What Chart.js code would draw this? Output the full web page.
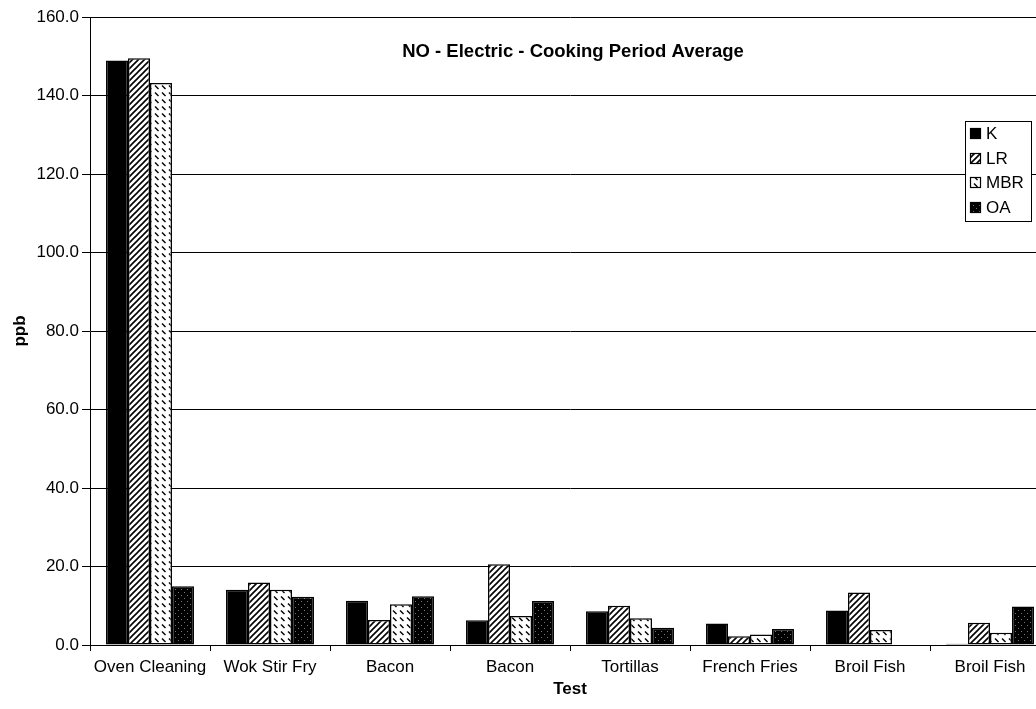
<!DOCTYPE html>
<html>
<head>
<meta charset="utf-8">
<script src="https://cdn.jsdelivr.net/npm/chart.js@4/dist/chart.umd.min.js"></script>
<style>
html,body{margin:0;padding:0;background:#fff;overflow:hidden;}
#wrap{width:1060px;height:709px;}
</style>
</head>
<body>
<div id="wrap"><canvas id="c" width="1060" height="709"></canvas></div>
<script>
const categories = ["Oven Cleaning","Wok Stir Fry","Bacon","Bacon","Tortillas","French Fries","Broil Fish","Broil Fish"];
const seriesNames = ["K","LR","MBR","OA"];
const valuesK   = [148.9, 14.1, 11.3, 6.3, 8.6, 5.5, 8.8, 0.3];
const valuesLR  = [149.5, 15.9, 6.4, 20.6, 10.0, 2.2, 13.4, 5.7];
const valuesMBR = [143.2, 14.1, 10.4, 7.4, 6.8, 2.7, 3.8, 3.1];
const valuesOA  = [15.0, 12.3, 12.4, 11.2, 4.4, 4.1, 0, 9.8];
const yTicks = [0,20,40,60,80,100,120,140,160];
const chartTitle = "NO - Electric - Cooking Period Average";

const FONT = "'Liberation Sans', Arial, sans-serif";

function makePattern(kind){
  const t = document.createElement('canvas');
  const s = kind==='MBR' ? 7 : 6;
  t.width = s; t.height = s;
  const g = t.getContext('2d');
  if(kind==='K'){
    g.fillStyle='#000'; g.fillRect(0,0,s,s);
  } else if(kind==='LR'){
    g.fillStyle='#fff'; g.fillRect(0,0,s,s);
    g.strokeStyle='#000'; g.lineWidth=1.6;
    g.beginPath();
    g.moveTo(-1,s+1); g.lineTo(s+1,-1);
    g.moveTo(-1,1); g.lineTo(1,-1);
    g.moveTo(s-1,s+1); g.lineTo(s+1,s-1);
    g.stroke();
  } else if(kind==='MBR'){
    g.fillStyle='#fff'; g.fillRect(0,0,s,s);
    g.strokeStyle='#000'; g.lineWidth=1.4;
    g.beginPath();
    g.moveTo(1,1.5); g.lineTo(4.5,5);
    g.stroke();
  } else {
    g.fillStyle='#000'; g.fillRect(0,0,s,s);
    g.fillStyle='#777';
    g.fillRect(1,1,1,1); g.fillRect(4,4,1,1);
  }
  return t;
}
const ctx0 = document.getElementById('c').getContext('2d');
const pats = {};
seriesNames.forEach(n=>{ pats[n] = ctx0.createPattern(makePattern(n),'repeat'); });

const seriesValues = [valuesK, valuesLR, valuesMBR, valuesOA];
const datasets = seriesNames.map((n,i)=>({
  label:n,
  data:seriesValues[i],
  backgroundColor:pats[n],
  borderColor:'#000',
  borderWidth:1.5,
  borderSkipped:false,
  categoryPercentage:0.733,
  barPercentage:1.0
}));

const overlay = {
  id:'overlay',
  afterDraw(chart){
    const c = chart.ctx;
    c.save();
    c.fillStyle='#000';
    c.font = "bold 18.5px " + FONT;
    c.textAlign='center'; c.textBaseline='middle';
    c.fillText(chartTitle, 573, 52);
    const lx=965, ly=121, lw=66, lh=100;
    c.fillStyle='#fff'; c.fillRect(lx,ly,lw,lh);
    c.strokeStyle='#000'; c.lineWidth=1;
    c.strokeRect(lx+0.5,ly+0.5,lw,lh);
    c.font = "17px " + FONT;
    c.textAlign='left'; c.textBaseline='middle';
    const ys=[133,158,182,207];
    seriesNames.forEach((n,i)=>{
      const y=ys[i];
      c.fillStyle=pats[n];
      c.fillRect(970,y-5,11,11);
      c.strokeStyle='#000'; c.lineWidth=1.2;
      c.strokeRect(970.5,y-4.5,10,10);
      c.fillStyle='#000';
      c.fillText(n, 986, y+1);
    });
    c.restore();
  }
};

new Chart(document.getElementById('c'), {
  type:'bar',
  data:{labels:categories, datasets},
  options:{
    responsive:false,
    animation:false,
    layout:{padding:{top:17,right:10,left:0,bottom:0}},
    plugins:{legend:{display:false}, tooltip:{enabled:false}, title:{display:false}},
    scales:{
      x:{
        grid:{offset:true, drawOnChartArea:false, tickLength:6, color:'#000', lineWidth:1},
        border:{color:'#000', width:1},
        ticks:{color:'#000', font:{family:FONT, size:17}, padding:6, maxRotation:0, autoSkip:false},
        title:{display:true, text:'Test', color:'#000', font:{family:FONT, size:17, weight:'bold'}, padding:{top:0,bottom:9}},
        afterFit(s){ s.height = 64; }
      },
      y:{
        min:0, max:160,
        afterBuildTicks(s){ s.ticks = yTicks.map(v=>({value:v})); },
        grid:{color:'#000', lineWidth:1, tickLength:8},
        border:{color:'#000', width:1},
        ticks:{color:'#000', font:{family:FONT, size:17}, padding:3, callback:v=>Number(v).toFixed(1)},
        title:{display:true, text:'ppb', color:'#000', font:{family:FONT, size:17, weight:'bold'}, padding:{top:10,bottom:0}},
        afterFit(s){ s.width = 90; }
      }
    }
  },
  plugins:[overlay]
});
</script>
</body>
</html>
